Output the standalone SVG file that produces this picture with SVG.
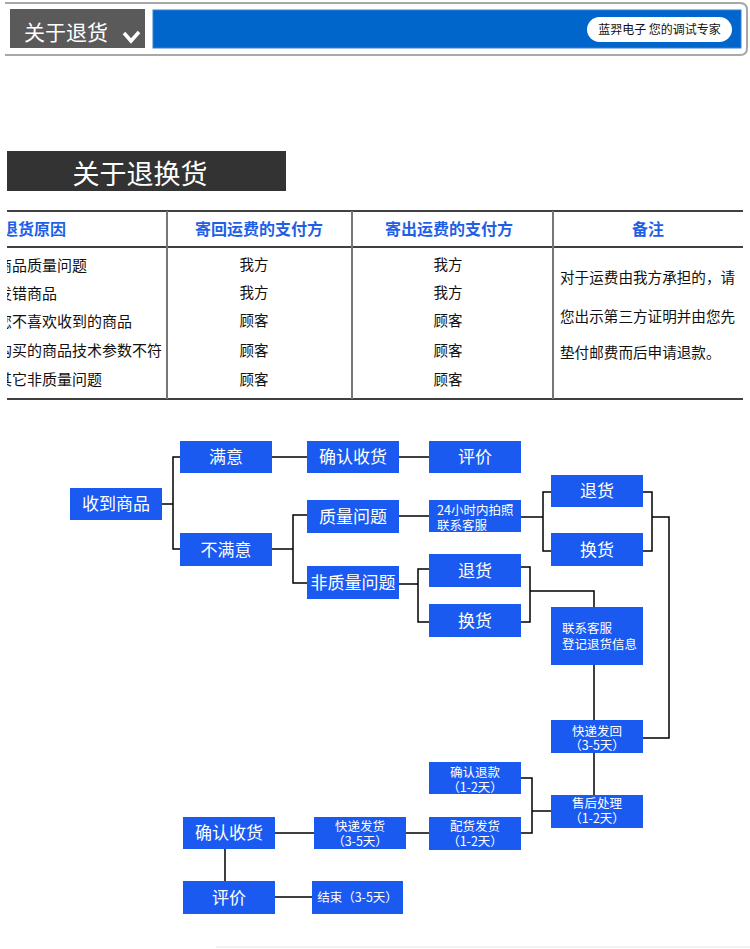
<svg xmlns="http://www.w3.org/2000/svg" width="750" height="949" viewBox="0 0 750 949">
<style>
text{font-family:"Noto Sans CJK SC","Noto Sans",sans-serif}
.box{fill:#1a5af0}
.lbl{fill:#fff;font-size:17px;text-anchor:middle}
.sm{fill:#fff;font-size:12.5px;text-anchor:middle}
.sml{fill:#fff;font-size:12.5px}
.th{fill:#1f5fe6;font-size:16px;font-weight:700;text-anchor:middle}
.ths{fill:#1f5fe6;font-size:16px;font-weight:700}
.td{fill:#111;font-size:14.5px;text-anchor:middle}
.tl{fill:#111;font-size:15px}
.note{fill:#111;font-size:14.6px}
.hl{stroke:#000;stroke-width:1.5}
.vl{stroke:#777;stroke-width:2}
.conn{fill:none;stroke:#000;stroke-width:1.5}
</style>
<defs>
<clipPath id="leftclip"><rect x="7" y="200" width="160" height="200"/></clipPath>
</defs>
<rect width="750" height="949" fill="#fff"/>

<g id="header">
<path d="M5 3 H740 Q747 3 747 10 V48 Q747 55 740 55 H5" fill="none" stroke="#a8a8a8" stroke-width="2"/>
<rect x="10" y="9" width="135" height="39" fill="#5a5a5a"/>
<text x="24" y="40" fill="#fff" font-size="21">关于退货</text>
<polyline points="124,33 131,41 139,32" fill="none" stroke="#fff" stroke-width="3.5"/>
<rect x="153" y="10" width="588" height="38" fill="#0066cc" stroke="#3a7fd0" stroke-width="1"/>
<rect x="587" y="17" width="145" height="25" rx="12.5" fill="#fff"/>
<text x="659.5" y="34" fill="#111" font-size="12" text-anchor="middle">蓝羿电子 您的调试专家</text>
</g>

<g id="title">
<rect x="7" y="151" width="279" height="40" fill="#333"/>
<text x="140" y="184" fill="#fff" font-size="27" text-anchor="middle">关于退换货</text>
</g>

<g id="table">
<line class="hl" x1="7" y1="211" x2="743" y2="211"/>
<line class="hl" x1="7" y1="247" x2="743" y2="247"/>
<line class="hl" x1="7" y1="399" x2="743" y2="399"/>
<line class="vl" x1="167" y1="211" x2="167" y2="399"/>
<line class="vl" x1="352" y1="211" x2="352" y2="399"/>
<line class="vl" x1="553" y1="211" x2="553" y2="399"/>
<g clip-path="url(#leftclip)">
<text class="ths" x="2" y="235">退货原因</text>
<text class="tl" x="-3" y="271">商品质量问题</text>
<text class="tl" x="-3" y="299">发错商品</text>
<text class="tl" x="-3" y="327">您不喜欢收到的商品</text>
<text class="tl" x="-3" y="356">购买的商品技术参数不符</text>
<text class="tl" x="-3" y="385">其它非质量问题</text>
</g>
<text class="th" x="259" y="235">寄回运费的支付方</text>
<text class="th" x="449" y="235">寄出运费的支付方</text>
<text class="th" x="648" y="235">备注</text>
<text class="td" x="254" y="270">我方</text>
<text class="td" x="254" y="298">我方</text>
<text class="td" x="254" y="326">顾客</text>
<text class="td" x="254" y="356">顾客</text>
<text class="td" x="254" y="385">顾客</text>
<text class="td" x="448" y="270">我方</text>
<text class="td" x="448" y="298">我方</text>
<text class="td" x="448" y="326">顾客</text>
<text class="td" x="448" y="356">顾客</text>
<text class="td" x="448" y="385">顾客</text>
<text class="note" x="560" y="283">对于运费由我方承担的，请</text>
<text class="note" x="560" y="322">您出示第三方证明并由您先</text>
<text class="note" x="560" y="358">垫付邮费而后申请退款。</text>
</g>

<g id="connectors">
<polyline class="conn" points="162,504 173,504"/>
<polyline class="conn" points="180,457 173,457 173,549 180,549"/>
<line class="conn" x1="272" y1="457" x2="307" y2="457"/>
<line class="conn" x1="399" y1="457" x2="429" y2="457"/>
<polyline class="conn" points="272,549 293,549"/>
<polyline class="conn" points="307,515 293,515 293,583 307,583"/>
<line class="conn" x1="399" y1="516" x2="429" y2="516"/>
<polyline class="conn" points="521,517 543,517"/>
<polyline class="conn" points="551,492 543,492 543,551 551,551"/>
<polyline class="conn" points="643,492 652,492 652,551 643,551"/>
<polyline class="conn" points="652,517 669,517 669,738 643,738"/>
<polyline class="conn" points="399,584 418,584"/>
<polyline class="conn" points="429,569 418,569 418,622 429,622"/>
<polyline class="conn" points="521,567 530,567 530,622 521,622"/>
<polyline class="conn" points="530,591 594,591 594,607"/>
<line class="conn" x1="594" y1="665" x2="594" y2="720"/>
<line class="conn" x1="594" y1="753" x2="594" y2="795"/>
<polyline class="conn" points="551,811 532,811"/>
<polyline class="conn" points="521,778 532,778 532,833 521,833"/>
<line class="conn" x1="429" y1="833" x2="406" y2="833"/>
<line class="conn" x1="314" y1="833" x2="275" y2="833"/>
<line class="conn" x1="225" y1="849" x2="225" y2="881"/>
<line class="conn" x1="275" y1="897" x2="312" y2="897"/>
</g>

<g id="n-receive"><rect class="box" x="70" y="488" width="92" height="32"/><text class="lbl" x="116" y="510">收到商品</text></g>
<g id="n-satisfied"><rect class="box" x="180" y="441" width="92" height="32"/><text class="lbl" x="226" y="463">满意</text></g>
<g id="n-unsatisfied"><rect class="box" x="180" y="533" width="92" height="33"/><text class="lbl" x="226" y="556">不满意</text></g>
<g id="n-confirm1"><rect class="box" x="307" y="441" width="92" height="32"/><text class="lbl" x="353" y="463">确认收货</text></g>
<g id="n-quality"><rect class="box" x="307" y="500" width="92" height="33"/><text class="lbl" x="353" y="523">质量问题</text></g>
<g id="n-nonquality"><rect class="box" x="307" y="566" width="92" height="33"/><text class="lbl" x="353" y="589">非质量问题</text></g>
<g id="n-review1"><rect class="box" x="429" y="441" width="92" height="32"/><text class="lbl" x="475" y="463">评价</text></g>
<g id="n-photo"><rect class="box" x="429" y="500" width="92" height="32"/><text class="sml" x="437" y="514.5">24小时内拍照</text><text class="sml" x="437" y="529.5">联系客服</text></g>
<g id="n-return-mid"><rect class="box" x="429" y="554" width="92" height="33"/><text class="lbl" x="475" y="577">退货</text></g>
<g id="n-exchange-mid"><rect class="box" x="429" y="604" width="92" height="33"/><text class="lbl" x="475" y="627">换货</text></g>
<g id="n-return-right"><rect class="box" x="551" y="475" width="92" height="32"/><text class="lbl" x="597" y="497">退货</text></g>
<g id="n-exchange-right"><rect class="box" x="551" y="533" width="92" height="33"/><text class="lbl" x="597" y="556">换货</text></g>
<g id="n-contact"><rect class="box" x="551" y="607" width="92" height="58"/><text class="sml" x="562" y="632.5">联系客服</text><text class="sml" x="562" y="648.5">登记退货信息</text></g>
<g id="n-sendback"><rect class="box" x="551" y="720" width="92" height="33"/><text class="sm" x="597" y="735.5">快递发回</text><text class="sm" x="597" y="750">（3-5天）</text></g>
<g id="n-aftersale"><rect class="box" x="551" y="795" width="92" height="33"/><text class="sm" x="597" y="808">售后处理</text><text class="sm" x="597" y="823">（1-2天）</text></g>
<g id="n-refund"><rect class="box" x="429" y="762" width="92" height="32"/><text class="sm" x="475" y="777">确认退款</text><text class="sm" x="475" y="792">（1-2天）</text></g>
<g id="n-prepare"><rect class="box" x="429" y="817" width="92" height="33"/><text class="sm" x="475" y="831">配货发货</text><text class="sm" x="475" y="846">（1-2天）</text></g>
<g id="n-ship"><rect class="box" x="314" y="817" width="92" height="32"/><text class="sm" x="360" y="831">快递发货</text><text class="sm" x="360" y="846">（3-5天）</text></g>
<g id="n-confirm2"><rect class="box" x="183" y="817" width="92" height="32"/><text class="lbl" x="229" y="839">确认收货</text></g>
<g id="n-review2"><rect class="box" x="183" y="881" width="92" height="33"/><text class="lbl" x="229" y="904">评价</text></g>
<g id="n-end"><rect class="box" x="312" y="881" width="91" height="33"/><text class="sm" x="357.5" y="902">结束（3-5天）</text></g>

<line x1="216" y1="947" x2="750" y2="947" stroke="#e4e4e4" stroke-width="1"/>
</svg>
